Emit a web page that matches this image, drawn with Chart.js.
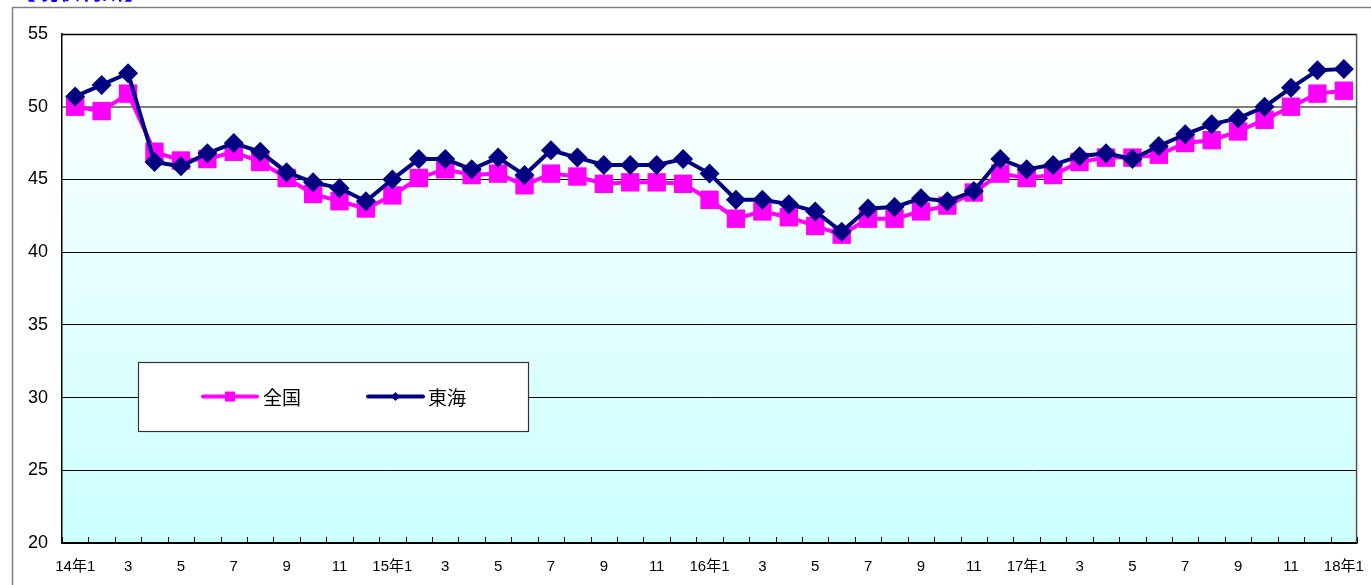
<!DOCTYPE html>
<html>
<head>
<meta charset="utf-8">
<script src="https://cdn.jsdelivr.net/npm/chart.js@4.4.1/dist/chart.umd.min.js"></script>
<style>
  html, body { margin: 0; padding: 0; background: #fff; overflow: hidden; }
  canvas { display: block; }
</style>
</head>
<body>
<canvas id="chart" width="1371" height="585"></canvas>
<script>
// Monthly categories, Jan 2014 – Jan 2018
const months = [
  '14年1','2','3','4','5','6','7','8','9','10','11','12',
  '15年1','2','3','4','5','6','7','8','9','10','11','12',
  '16年1','2','3','4','5','6','7','8','9','10','11','12',
  '17年1','2','3','4','5','6','7','8','9','10','11','12',
  '18年1'
];

// Axis labels shown under the categories (every other month)
const tickLabels = [
  '14年1','','3','','5','','7','','9','','11','',
  '15年1','','3','','5','','7','','9','','11','',
  '16年1','','3','','5','','7','','9','','11','',
  '17年1','','3','','5','','7','','9','','11','',
  '18年1'
];

const seriesNames = ['全国', '東海'];

// 全国 (nationwide)
const zenkoku = [
  50.0, 49.7, 50.9, 46.9, 46.3, 46.4, 46.9, 46.2, 45.1, 44.0, 43.5, 43.0,
  43.9, 45.1, 45.7, 45.3, 45.4, 44.6, 45.4, 45.2, 44.7, 44.8, 44.8, 44.7,
  43.6, 42.3, 42.8, 42.4, 41.8, 41.2, 42.3, 42.3, 42.8, 43.2, 44.1, 45.4,
  45.1, 45.3, 46.2, 46.5, 46.5, 46.7, 47.5, 47.7, 48.3, 49.1, 50.0, 50.9,
  51.1
];

// 東海 (Tokai region)
const tokai = [
  50.7, 51.5, 52.3, 46.2, 45.9, 46.8, 47.5, 46.9, 45.5, 44.8, 44.4, 43.5,
  45.0, 46.4, 46.4, 45.7, 46.5, 45.3, 47.0, 46.5, 46.0, 46.0, 46.0, 46.4,
  45.4, 43.6, 43.6, 43.3, 42.8, 41.4, 43.0, 43.1, 43.7, 43.5, 44.2, 46.4,
  45.7, 46.0, 46.6, 46.8, 46.4, 47.3, 48.1, 48.8, 49.2, 50.0, 51.3, 52.5,
  52.6
];

const yMin = 20, yMax = 55, yStep = 5;

const MAGENTA = '#ff00ff';
const NAVY = '#000080';
const LATIN = '"Liberation Sans", "Noto Sans CJK JP", sans-serif';
const CJK = '"Noto Sans CJK JP", sans-serif';

// Page frame, heading and plot-area gradient
const backdrop = {
  id: 'backdrop',
  beforeDraw(chart) {
    const { ctx, chartArea: a, width, height } = chart;
    ctx.save();
    ctx.fillStyle = '#fff';
    ctx.fillRect(0, 0, width, height);

    ctx.fillStyle = '#0000ff';
    ctx.font = 'bold 22px ' + CJK;
    ctx.textBaseline = 'bottom';
    ctx.textAlign = 'left';
    ctx.fillText('【現状判断】', 14, 2);

    ctx.strokeStyle = '#808080';
    ctx.lineWidth = 1.5;
    ctx.beginPath();
    ctx.moveTo(12.5, height + 2);
    ctx.lineTo(12.5, 7.5);
    ctx.lineTo(width + 2, 7.5);
    ctx.stroke();

    const g = ctx.createLinearGradient(0, a.top, 0, a.bottom);
    g.addColorStop(0, '#ffffff');
    g.addColorStop(1, '#ccffff');
    ctx.fillStyle = g;
    ctx.fillRect(a.left, a.top, a.right - a.left, a.bottom - a.top);
    ctx.restore();
  },
  beforeDatasetsDraw(chart) {
    const { ctx, chartArea: a, scales: { x } } = chart;
    ctx.save();
    // plot border
    ctx.strokeStyle = '#000';
    ctx.lineWidth = 1.5;
    ctx.beginPath();
    ctx.moveTo(a.left, a.top + 0.5);
    ctx.lineTo(a.right, a.top + 0.5);
    ctx.stroke();
    ctx.strokeStyle = '#555';
    ctx.lineWidth = 1.5;
    ctx.beginPath();
    ctx.moveTo(a.right - 0.5, a.top);
    ctx.lineTo(a.right - 0.5, a.bottom);
    ctx.stroke();
    // inside tick marks on category boundaries
    ctx.strokeStyle = '#000';
    ctx.lineWidth = 1;
    const n = months.length;
    const step = (x.getPixelForValue(n - 1) - x.getPixelForValue(0)) / (n - 1);
    ctx.beginPath();
    for (let i = 0; i <= n; i++) {
      const px = Math.round(x.getPixelForValue(0) - step / 2 + i * step) + 0.5;
      ctx.moveTo(px, a.bottom - 6);
      ctx.lineTo(px, a.bottom);
    }
    ctx.stroke();
    ctx.restore();
  }
};

// Boxed legend with line + marker samples
const boxLegend = {
  id: 'boxLegend',
  afterDraw(chart) {
    const { ctx } = chart;
    const ds = chart.data.datasets;
    ctx.save();
    ctx.fillStyle = '#fff';
    ctx.fillRect(138, 362, 390, 69);
    ctx.strokeStyle = '#333';
    ctx.lineWidth = 1.2;
    ctx.strokeRect(138.5, 362.5, 390, 69);

    const cy = 396.5;
    const items = [
      { d: ds[0], x0: 203, x1: 257, tx: 263, mark: 'square' },
      { d: ds[1], x0: 368, x1: 423, tx: 428, mark: 'diamond' }
    ];
    items.forEach(it => {
      ctx.strokeStyle = it.d.borderColor;
      ctx.lineWidth = 4;
      ctx.lineCap = 'round';
      ctx.beginPath();
      ctx.moveTo(it.x0, cy);
      ctx.lineTo(it.x1, cy);
      ctx.stroke();
      const mx = (it.x0 + it.x1) / 2;
      ctx.fillStyle = it.d.borderColor;
      if (it.mark === 'square') {
        ctx.fillRect(mx - 5, cy - 5, 10, 10);
      } else {
        ctx.beginPath();
        ctx.moveTo(mx, cy - 4.5);
        ctx.lineTo(mx + 4.5, cy);
        ctx.lineTo(mx, cy + 4.5);
        ctx.lineTo(mx - 4.5, cy);
        ctx.closePath();
        ctx.fill();
      }
      ctx.fillStyle = '#000';
      ctx.font = '19px ' + CJK;
      ctx.textAlign = 'left';
      ctx.textBaseline = 'middle';
      ctx.fillText(it.d.label, it.tx, cy + 1);
    });
    ctx.restore();
  }
};

new Chart(document.getElementById('chart'), {
  type: 'line',
  data: {
    labels: months,
    datasets: [
      {
        label: seriesNames[0],
        data: zenkoku,
        borderColor: MAGENTA,
        backgroundColor: MAGENTA,
        borderWidth: 4,
        pointStyle: 'rect',
        pointRadius: 13,
        pointBorderWidth: 0,
        tension: 0,
        order: 1
      },
      {
        label: seriesNames[1],
        data: tokai,
        borderColor: NAVY,
        backgroundColor: NAVY,
        borderWidth: 4,
        pointStyle: 'rectRot',
        pointRadius: 10,
        pointBorderWidth: 0,
        tension: 0,
        order: 0
      }
    ]
  },
  options: {
    responsive: false,
    animation: false,
    devicePixelRatio: 1,
    layout: { padding: { top: 34, right: 3, left: 0, bottom: 0 } },
    plugins: {
      legend: { display: false },
      tooltip: { enabled: false }
    },
    scales: {
      x: {
        type: 'category',
        offset: true,
        grid: { display: false },
        border: { display: true, color: '#000', width: 1.5 },
        ticks: {
          autoSkip: false,
          maxRotation: 0,
          minRotation: 0,
          padding: 7,
          color: '#000',
          font: { family: LATIN, size: 15 },
          callback: (v, i) => tickLabels[i]
        },
        afterFit(scale) { scale.height = 42; }
      },
      y: {
        min: yMin,
        max: yMax,
        ticks: {
          stepSize: yStep,
          padding: 14,
          color: '#000',
          font: { family: LATIN, size: 18 }
        },
        grid: {
          drawTicks: false,
          color: c => (c.tick && c.tick.value === 50) ? '#7f7f7f' : '#000',
          lineWidth: c => (c.tick && c.tick.value === 50) ? 2 : 1
        },
        border: { display: true, color: '#000', width: 1.5 },
        afterFit(scale) { scale.width = 62; }
      }
    }
  },
  plugins: [backdrop, boxLegend]
});
</script>
</body>
</html>
